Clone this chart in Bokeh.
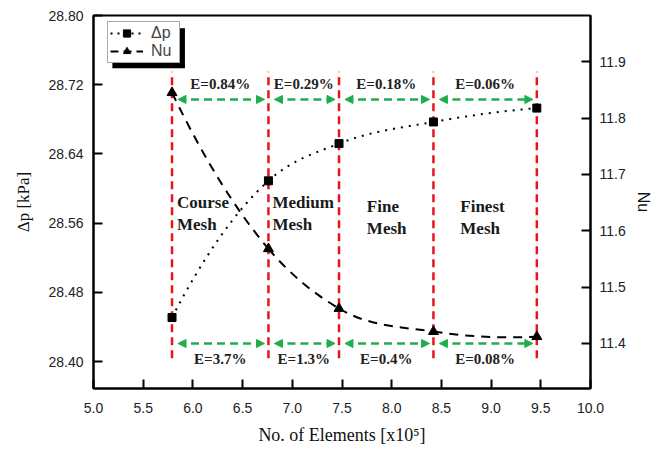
from bokeh.plotting import figure
from bokeh.models import (Range1d, LinearAxis, FixedTicker, NumeralTickFormatter,
                          Arrow, NormalHead, ColumnDataSource, Legend, LegendItem,
                          BoxAnnotation)
from bokeh.core.properties import value
from bokeh.embed import file_html
from bokeh.resources import INLINE

# ---- data -------------------------------------------------------------
elements = [5.79, 6.76, 7.47, 8.42, 9.46]          # x10^5 elements
dp_kpa = [28.451, 28.609, 28.652, 28.677, 28.693]  # pressure drop [kPa]
nu = [11.845, 11.568, 11.462, 11.421, 11.412]      # Nusselt number
dp_err = ["E=0.84%", "E=0.29%", "E=0.18%", "E=0.06%"]
nu_err = ["E=3.7%", "E=1.3%", "E=0.4%", "E=0.08%"]
mesh_names = ["Course\nMesh", "Medium\nMesh", "Fine\nMesh", "Finest\nMesh"]
x_ticks = [5.0, 5.5, 6.0, 6.5, 7.0, 7.5, 8.0, 8.5, 9.0, 9.5, 10.0]
dp_ticks = [28.40, 28.48, 28.56, 28.64, 28.72, 28.80]
nu_ticks = [11.4, 11.5, 11.6, 11.7, 11.8, 11.9]

# ---- layout constants --------------------------------------------------
mesh_label_x = [5.84, 6.80, 7.75, 8.69]
mesh_label_y = [28.571, 28.571, 28.567, 28.567]
guide_y0, guide_y1 = 28.404, 28.735
arrow_top_y, arrow_bot_y = 28.703, 28.421
err_top_y, err_bot_y = 28.721, 28.403
gap_l, gap_r = 0.06, 0.04

SERIF = "Liberation Serif"
SANS = "Liberation Sans"
RED = "#e8141c"
GREEN = "#1fae4b"


def bezier_segments(xs, ys):
    """Smooth cubic segments through the points (parabolic tangents)."""
    n = len(xs)
    h = [xs[i + 1] - xs[i] for i in range(n - 1)]
    s = [(ys[i + 1] - ys[i]) / h[i] for i in range(n - 1)]
    m = [0.0] * n
    for i in range(1, n - 1):
        m[i] = (h[i] * s[i - 1] + h[i - 1] * s[i]) / (h[i - 1] + h[i])
    m[0] = ((2 * h[0] + h[1]) * s[0] - h[0] * s[1]) / (h[0] + h[1])
    m[-1] = ((2 * h[-1] + h[-2]) * s[-1] - h[-1] * s[-2]) / (h[-1] + h[-2])
    seg = dict(x0=[], y0=[], x1=[], y1=[], cx0=[], cy0=[], cx1=[], cy1=[])
    for i in range(n - 1):
        seg["x0"].append(xs[i]); seg["y0"].append(ys[i])
        seg["x1"].append(xs[i + 1]); seg["y1"].append(ys[i + 1])
        seg["cx0"].append(xs[i] + h[i] / 3); seg["cy0"].append(ys[i] + m[i] * h[i] / 3)
        seg["cx1"].append(xs[i + 1] - h[i] / 3); seg["cy1"].append(ys[i + 1] - m[i + 1] * h[i] / 3)
    return ColumnDataSource(seg)


p = figure(width=654, height=453, output_backend="svg", toolbar_location=None,
           x_range=Range1d(5.0, 10.0), y_range=Range1d(28.369, 28.80),
           min_border_left=93, min_border_right=61, min_border_top=15,
           min_border_bottom=65)
p.extra_y_ranges = {"nu": Range1d(11.320, 11.982)}
p.xgrid.visible = False
p.ygrid.visible = False
p.background_fill_color = "white"
p.border_fill_color = "white"
p.outline_line_color = "black"
p.outline_line_width = 2
p.outline_line_alpha = 1

# axes
nu_axis = LinearAxis(y_range_name="nu", axis_label="Nu")
p.add_layout(nu_axis, "right")

p.xaxis.axis_label = "No. of Elements [x10\u2075]"
p.yaxis[0].axis_label = "\u0394p [kPa]"
p.xaxis.ticker = FixedTicker(ticks=x_ticks)
p.xaxis.formatter = NumeralTickFormatter(format="0.0")
p.yaxis[0].ticker = FixedTicker(ticks=dp_ticks)
p.yaxis[0].formatter = NumeralTickFormatter(format="0.00")
nu_axis.ticker = FixedTicker(ticks=nu_ticks)
nu_axis.formatter = NumeralTickFormatter(format="0.0")

for ax in [p.xaxis[0], p.yaxis[0], nu_axis]:
    ax.axis_line_color = "black"
    ax.axis_line_width = 2
    ax.major_tick_line_color = "black"
    ax.major_tick_line_width = 2
    ax.major_tick_in = 9
    ax.major_tick_out = 0
    ax.minor_tick_line_color = None
    ax.major_label_text_font = SANS
    ax.major_label_text_font_size = "14px"
    ax.major_label_text_color = "#222222"
    ax.axis_label_text_font_style = "normal"
    ax.axis_label_text_color = "#111111"

p.xaxis.major_label_standoff = 14
p.xaxis.axis_label_standoff = 9
p.xaxis.axis_label_text_font = SERIF
p.xaxis.axis_label_text_font_size = "18px"
p.yaxis[0].major_label_standoff = 10
p.yaxis[0].axis_label_standoff = 12
p.yaxis[0].axis_label_text_font = SERIF
p.yaxis[0].axis_label_text_font_size = "17px"
nu_axis.major_label_standoff = 9
nu_axis.axis_label_standoff = 6
nu_axis.axis_label_text_font = SANS
nu_axis.axis_label_text_font_size = "16px"

# vertical mesh boundaries
p.segment(x0=elements, y0=guide_y0, x1=elements, y1=guide_y1,
          line_color=RED, line_width=2.5, line_dash="8 5")

# smooth curves through the points
p.bezier(x0="x0", y0="y0", x1="x1", y1="y1", cx0="cx0", cy0="cy0",
         cx1="cx1", cy1="cy1", source=bezier_segments(elements, dp_kpa),
         line_color="black", line_width=2, line_dash="2 6")
p.bezier(x0="x0", y0="y0", x1="x1", y1="y1", cx0="cx0", cy0="cy0",
         cx1="cx1", cy1="cy1", source=bezier_segments(elements, nu),
         line_color="black", line_width=2, line_dash="9 7", y_range_name="nu")

dp_pts = p.scatter(elements, dp_kpa, marker="square", size=8,
                   fill_color="black", line_color="black")
nu_pts = p.scatter(elements, nu, marker="triangle", size=10,
                   fill_color="black", line_color="black", y_range_name="nu")

# double-headed convergence arrows between mesh boundaries
starts = [x + gap_l for x in elements[:-1]]
ends = [x - gap_r for x in elements[1:]]
for yy in (arrow_top_y, arrow_bot_y):
    src = ColumnDataSource(dict(xs=starts, xe=ends, y=[yy] * len(starts)))
    p.add_layout(Arrow(x_start="xs", y_start="y", x_end="xe", y_end="y", source=src,
                       line_color=GREEN, line_width=2.5, line_dash="8 5",
                       start=NormalHead(size=8, fill_color=GREEN, line_color=GREEN,
                                        line_width=1),
                       end=NormalHead(size=8, fill_color=GREEN, line_color=GREEN,
                                      line_width=1)))

mids = [(a + b) / 2 for a, b in zip(elements[:-1], elements[1:])]
p.text(x=mids, y=[err_top_y] * len(mids), text=dp_err, text_font=value(SERIF),
       text_font_style="bold", text_font_size="15px", text_color="#222222",
       text_align="center", text_baseline="middle")
p.text(x=mids, y=[err_bot_y] * len(mids), text=nu_err, text_font=value(SERIF),
       text_font_style="bold", text_font_size="15px", text_color="#222222",
       text_align="center", text_baseline="middle")

p.text(x=mesh_label_x, y=mesh_label_y, text=mesh_names, text_font=value(SERIF),
       text_font_style="bold", text_font_size="17px", text_color="#1a1a1a",
       text_align="left", text_baseline="middle", text_line_height=1.15)

# legend keys: single-point lines carry the line style into the legend
dp_key = p.line(x=elements[:1], y=dp_kpa[:1], line_color="black", line_width=2,
                line_dash="2 5")
nu_key = p.line(x=elements[:1], y=nu[:1], line_color="black", line_width=2,
                line_dash="8 5", y_range_name="nu")
shadow = BoxAnnotation(left=5.19, right=5.92, top=28.7853, bottom=28.7391,
                       fill_color="black", fill_alpha=1, line_color=None)
p.add_layout(shadow)
legend = Legend(items=[LegendItem(label="\u0394p", renderers=[dp_key, dp_pts]),
                       LegendItem(label="Nu", renderers=[nu_key, nu_pts])],
                location=(14, 325), orientation="vertical",
                glyph_width=33, glyph_height=18, label_standoff=8, label_width=26,
                padding=2, spacing=0, margin=0,
                label_text_font=SANS, label_text_font_size="16px",
                border_line_color="#555555", border_line_width=1,
                background_fill_color="white", background_fill_alpha=1)
p.add_layout(legend)

open("out.html", "w").write(file_html(p, INLINE))
